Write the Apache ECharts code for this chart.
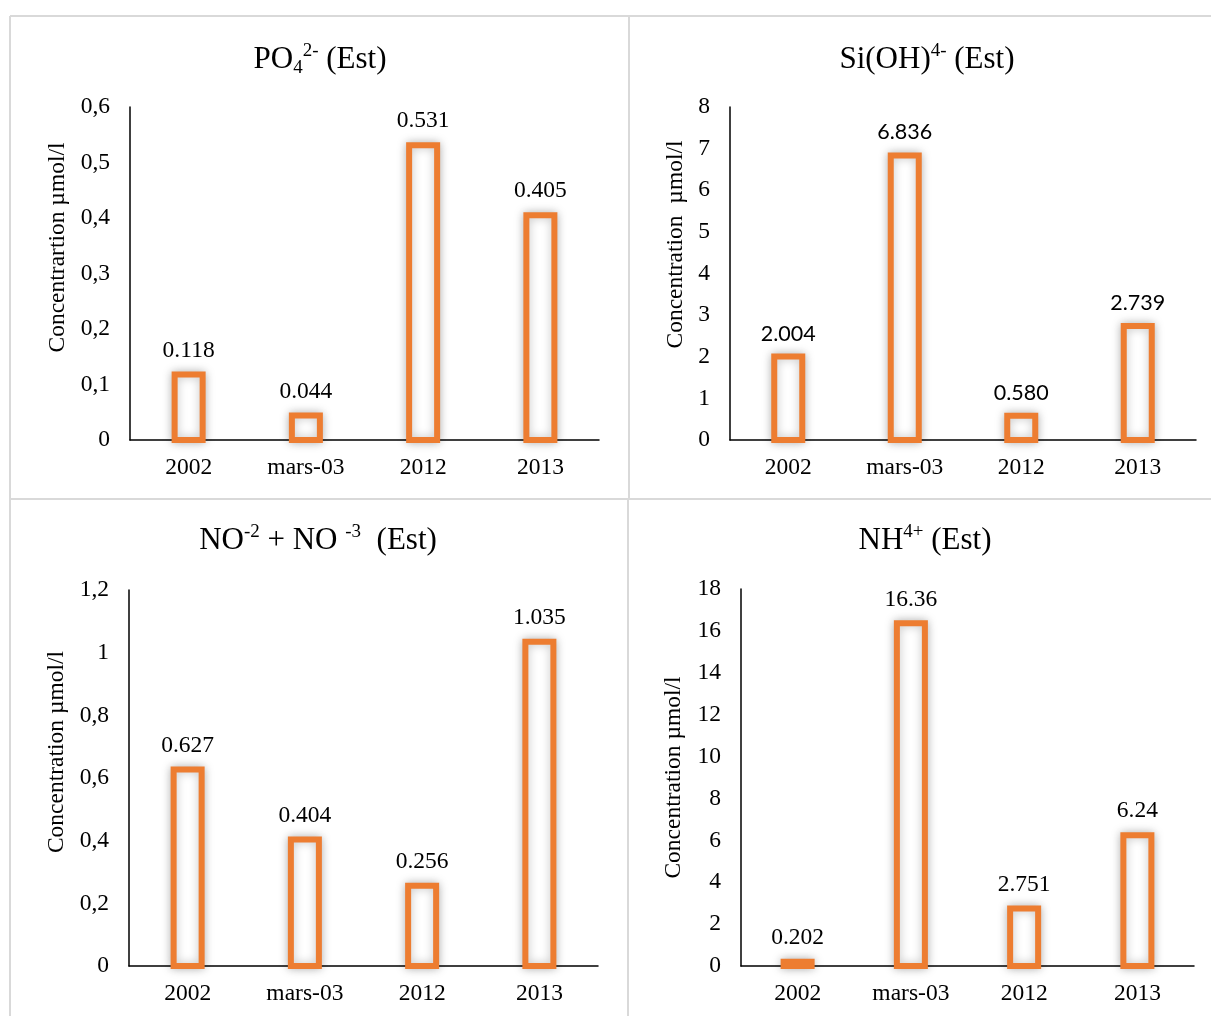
<!DOCTYPE html>
<html><head><meta charset="utf-8">
<script src="https://cdn.jsdelivr.net/npm/echarts@6/dist/echarts.min.js"></script>
<style>html,body{margin:0;padding:0;background:#fff}#c{width:1211px;height:1016px}</style>
</head><body><div id="c"></div>
<script>
// ---- data ----
const categories = ['2002', 'mars-03', '2012', '2013'];
const po4Values = [0.118, 0.044, 0.531, 0.405];
const siohValues = [2.004, 6.836, 0.580, 2.739];
const noxValues = [0.627, 0.404, 0.256, 1.035];
const nh4Values = [0.202, 16.36, 2.751, 6.24];
const po4Axis = [0, 0.6, 0.1];
const siohAxis = [0, 8, 1];
const noxAxis = [0, 1.2, 0.2];
const nh4Axis = [0, 18, 2];

const SERIF = 'Liberation Serif';
const ORANGE = '#ED7D31';
const BAR_W = 28;

const panels = [
  { values: po4Values, axis: po4Axis, comma: true, decimals: 3, labelFont: SERIF,
    grid: { left: 130, top: 107, width: 469, height: 333 },
    yName: 'Concentrartion µmol/l', nameGap: 60, namePad: 52,
    title: '{m|PO}{sub|4}{sup|2-}{m| (Est)}', tx: 320, ty: 42 },
  { values: siohValues, axis: siohAxis, comma: false, decimals: 3, labelFont: 'Lato',
    grid: { left: 730, top: 107, width: 466, height: 333 },
    yName: 'Concentration  µmol/l', nameGap: 42, namePad: 58,
    title: '{m|Si(OH)}{sup|4-}{m| (Est)}', tx: 927, ty: 42 },
  { values: noxValues, axis: noxAxis, comma: true, decimals: 3, labelFont: SERIF,
    grid: { left: 129, top: 590, width: 469, height: 376 },
    yName: 'Concentration µmol/l', nameGap: 60, namePad: 52,
    title: '{m|NO}{sup|-2}{m| + NO }{sup|-3}{m|  (Est)}', tx: 318, ty: 523 },
  { values: nh4Values, axis: nh4Axis, comma: false, decimals: null, labelFont: SERIF,
    grid: { left: 741, top: 589, width: 453, height: 377 },
    yName: 'Concentration µmol/l', nameGap: 55, namePad: 0,
    title: '{m|NH}{sup|4+}{m| (Est)}', tx: 925, ty: 523 }
];

const chart = echarts.init(document.getElementById('c'), null, { renderer: 'canvas' });

function renderBar(params, api) {
  const base = api.coord([api.value(0), 0]);
  const top = api.coord([api.value(0), api.value(1)]);
  return {
    type: 'rect',
    shape: { x: top[0] - BAR_W / 2, y: top[1], width: BAR_W, height: base[1] - top[1] },
    style: { fill: '#fff', stroke: ORANGE, lineWidth: 6, shadowBlur: 10, shadowColor: 'rgba(0,0,0,0.25)' }
  };
}

const barSeries = panels.map((p, i) => ({
  type: 'custom', xAxisIndex: i, yAxisIndex: i, renderItem: renderBar, silent: true, z: 3,
  data: p.values.map((v, k) => [k, v])
}));
const labelSeries = panels.map((p, i) => ({
  type: 'bar', xAxisIndex: i, yAxisIndex: i, data: p.values, barWidth: BAR_W, silent: true, z: 4,
  itemStyle: { color: 'rgba(0,0,0,0)' },
  label: {
    show: true, position: 'top', distance: 12, color: '#000',
    fontFamily: p.labelFont, fontSize: p.labelFont === SERIF ? 23.5 : 21.5,
    formatter: prm => p.decimals == null ? String(prm.value) : Number(prm.value).toFixed(p.decimals)
  }
}));

const option = {
  backgroundColor: '#fff',
  animation: false,
  title: panels.map(p => ({
    text: p.title, left: p.tx, top: p.ty, textAlign: 'center', padding: 0,
    textStyle: {
      fontWeight: 'normal', fontFamily: SERIF,
      rich: {
        m: { fontFamily: SERIF, fontWeight: 'normal', fontSize: 31, lineHeight: 36, color: '#000' },
        sup: { fontFamily: SERIF, fontWeight: 'normal', fontSize: 19, lineHeight: 16, verticalAlign: 'top', color: '#000' },
        sub: { fontFamily: SERIF, fontWeight: 'normal', fontSize: 19, lineHeight: 16, verticalAlign: 'bottom', color: '#000' }
      }
    }
  })),
  grid: panels.map(p => Object.assign({ containLabel: false }, p.grid)),
  xAxis: panels.map((p, i) => ({
    type: 'category', gridIndex: i, data: categories,
    axisLine: { lineStyle: { color: '#000', width: 1.5 } },
    axisTick: { show: false },
    axisLabel: { fontFamily: SERIF, fontSize: 23.5, color: '#000', margin: 16 }
  })),
  yAxis: panels.map((p, i) => ({
    type: 'value', gridIndex: i, min: p.axis[0], max: p.axis[1], interval: p.axis[2],
    axisLine: { show: true, lineStyle: { color: '#000', width: 1.5 } },
    axisTick: { show: false },
    splitLine: { show: false },
    axisLabel: {
      fontFamily: SERIF, fontSize: 23.5, color: '#000', margin: 20,
      formatter: v => { const s = String(Number(v.toFixed(2))); return p.comma ? s.replace('.', ',') : s; }
    },
    name: p.yName, nameLocation: 'middle', nameRotate: 90, nameGap: p.nameGap,
    nameTextStyle: { fontFamily: SERIF, fontSize: 23.5, color: '#000', padding: [0, 0, 0, p.namePad] }
  })),
  series: barSeries.concat(labelSeries),
  graphic: [
    { type: 'line', shape: { x1: 10, y1: 16, x2: 1211, y2: 16 }, style: { stroke: '#d9d9d9', lineWidth: 2 } },
    { type: 'line', shape: { x1: 10, y1: 16, x2: 10, y2: 1016 }, style: { stroke: '#d9d9d9', lineWidth: 2 } },
    { type: 'line', shape: { x1: 10, y1: 499, x2: 1211, y2: 499 }, style: { stroke: '#d9d9d9', lineWidth: 2 } },
    { type: 'line', shape: { x1: 629, y1: 16, x2: 629, y2: 499 }, style: { stroke: '#d9d9d9', lineWidth: 2 } },
    { type: 'line', shape: { x1: 628, y1: 499, x2: 628, y2: 1016 }, style: { stroke: '#d9d9d9', lineWidth: 2 } }
  ]
};
chart.setOption(option);
</script></body></html>
